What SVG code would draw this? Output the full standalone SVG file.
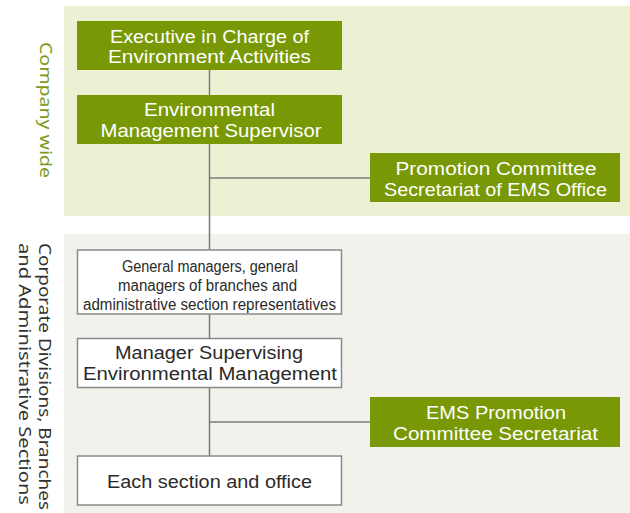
<svg xmlns="http://www.w3.org/2000/svg" width="630" height="513" viewBox="0 0 630 513">
<style>
.g{fill:#789905}
.w{fill:#ffffff;stroke:#8a8a8a;stroke-width:1.5}
.tw{font-family:"Liberation Sans","Noto Sans",sans-serif;font-size:17.5px;fill:#ffffff;text-anchor:middle}
.tk{font-family:"Liberation Sans","Noto Sans",sans-serif;font-size:17.5px;fill:#2a2a2a;text-anchor:middle}
.tn{font-family:"Liberation Sans","Noto Sans",sans-serif;font-size:16px;fill:#2a2a2a;text-anchor:middle}
.c{stroke:#7a7a7a;stroke-width:1.5;fill:none}
.side{font-family:"Noto Sans","Open Sans",sans-serif;font-size:17px}
</style>
<rect x="0" y="0" width="630" height="513" fill="#ffffff"/>
<rect id="panel-company" x="64" y="6" width="566" height="210" fill="#edf1d4"/>
<rect id="panel-divisions" x="64" y="234" width="566" height="279" fill="#f3f1eb"/>
<g id="label-company">
<text class="side" fill="#7a9a1a" transform="translate(40,42) rotate(90)" textLength="136" lengthAdjust="spacingAndGlyphs">Company wide</text>
</g>
<g id="label-divisions">
<text class="side" fill="#333333" transform="translate(39,243) rotate(90)" textLength="267" lengthAdjust="spacingAndGlyphs">Corporate Divisions, Branches</text>
<text class="side" fill="#333333" transform="translate(19,243) rotate(90)" textLength="262" lengthAdjust="spacingAndGlyphs">and Administrative Sections</text>
</g>
<g id="connectors">
<line class="c" x1="209.5" y1="70" x2="209.5" y2="456"/>
<line class="c" x1="209.5" y1="178" x2="370" y2="178"/>
<line class="c" x1="209.5" y1="422" x2="370" y2="422"/>
</g>
<g id="executive">
<rect class="g" x="77" y="21" width="265" height="49"/>
<text class="tw" x="209.5" y="43" textLength="199" lengthAdjust="spacingAndGlyphs">Executive in Charge of</text>
<text class="tw" x="209.5" y="63" textLength="203" lengthAdjust="spacingAndGlyphs">Environment Activities</text>
</g>
<g id="supervisor">
<rect class="g" x="77" y="95" width="265" height="49"/>
<text class="tw" x="209.5" y="116" textLength="131" lengthAdjust="spacingAndGlyphs">Environmental</text>
<text class="tw" x="211" y="137" textLength="221" lengthAdjust="spacingAndGlyphs">Management Supervisor</text>
</g>
<g id="promotion-office">
<rect class="g" x="370" y="153" width="250" height="49"/>
<text class="tw" x="496" y="175" textLength="201" lengthAdjust="spacingAndGlyphs">Promotion Committee</text>
<text class="tw" x="495.5" y="196" textLength="223" lengthAdjust="spacingAndGlyphs">Secretariat of EMS Office</text>
</g>
<g id="general-managers">
<rect class="w" x="77.5" y="250" width="264" height="64"/>
<text class="tn" x="210" y="272" textLength="176" lengthAdjust="spacingAndGlyphs">General managers, general</text>
<text class="tn" x="207.5" y="291" textLength="179" lengthAdjust="spacingAndGlyphs">managers of branches and</text>
<text class="tn" x="209.5" y="310" textLength="253" lengthAdjust="spacingAndGlyphs">administrative section representatives</text>
</g>
<g id="manager-supervising">
<rect class="w" x="77.5" y="338.5" width="264" height="49"/>
<text class="tk" x="209" y="359" textLength="188" lengthAdjust="spacingAndGlyphs">Manager Supervising</text>
<text class="tk" x="210" y="380" textLength="254" lengthAdjust="spacingAndGlyphs">Environmental Management</text>
</g>
<g id="ems-secretariat">
<rect class="g" x="370" y="397" width="250" height="50"/>
<text class="tw" x="496" y="419" textLength="140" lengthAdjust="spacingAndGlyphs">EMS Promotion</text>
<text class="tw" x="495.5" y="440" textLength="205" lengthAdjust="spacingAndGlyphs">Committee Secretariat</text>
</g>
<g id="each-section">
<rect class="w" x="77.5" y="456" width="264" height="49"/>
<text class="tk" x="209.5" y="488" textLength="205" lengthAdjust="spacingAndGlyphs">Each section and office</text>
</g>
</svg>
